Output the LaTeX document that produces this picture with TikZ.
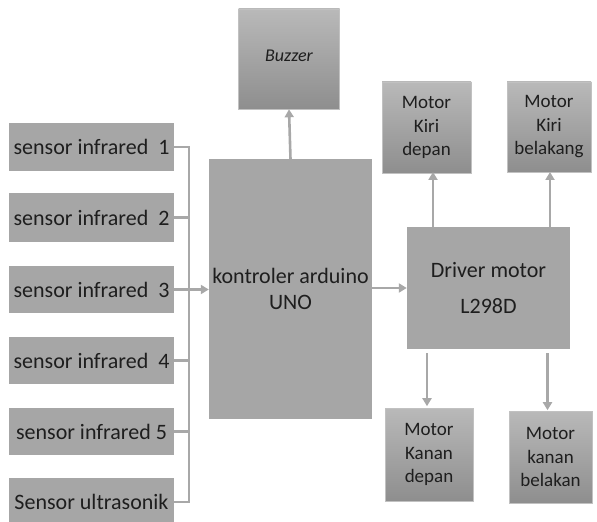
\documentclass[tikz,border=0pt]{standalone}
\usepackage{fontspec}
\setmainfont{Carlito}
\usetikzlibrary{arrows.meta}
\definecolor{boxgray}{HTML}{A6A6A6}
\definecolor{linegray}{HTML}{A8A8A8}
\definecolor{shadetop}{HTML}{B9B9B9}
\definecolor{shadebot}{HTML}{8E8E8E}
\definecolor{txt}{HTML}{1E1E1E}

\begin{document}
\begin{tikzpicture}[x=1bp, y=-1bp,
    flatbox/.style={fill=boxgray, text=txt, inner sep=0pt, align=center,
      font=\fontsize{22bp}{26bp}\selectfont},
    shadebox/.style={top color=shadetop, bottom color=shadebot, draw=boxgray!70,
      line width=0.6bp, text=txt, inner sep=0pt, align=center,
      font=\fontsize{19bp}{23.5bp}\selectfont},
    wire/.style={draw=linegray, line width=2.6bp},
    arrow/.style={wire, -{Triangle[length=8bp, width=9bp]}}]
    \useasboundingbox (0,0) rectangle (597,522);

    % sensor di sebelah kiri
    \node[flatbox, minimum width=164bp, minimum height=48bp] (s1) at (91.5,147) {sensor infrared\ \ 1};
    \node[flatbox, minimum width=164bp, minimum height=49bp] (s2) at (91.5,217.5) {sensor infrared\ \ 2};
    \node[flatbox, minimum width=164bp, minimum height=47bp] (s3) at (91.5,289.5) {sensor infrared\ \ 3};
    \node[flatbox, minimum width=164bp, minimum height=47bp] (s4) at (91.5,360.5) {sensor infrared\ \ 4};
    \node[flatbox, minimum width=164bp, minimum height=47bp] (s5) at (91.5,431.5) {sensor infrared 5};
    \node[flatbox, minimum width=164bp, minimum height=48bp] (s6) at (91.5,502) {Sensor ultrasonik};

    % kontroler dan buzzer
    \node[flatbox, minimum width=163bp, minimum height=259bp] (uno) at (290.5,289) {kontroler arduino\\UNO};
    \node[shadebox, minimum width=101bp, minimum height=100bp,
      font=\fontsize{18bp}{22bp}\selectfont\itshape] (buz) at (289,59) {\raisebox{7bp}{Buzzer}};

    % driver motor
    \node[flatbox, minimum width=163bp, minimum height=122bp,
      font=\fontsize{22bp}{36bp}\selectfont] (drv) at (488.5,288) {Driver motor\\L298D};

    % empat motor
    \node[shadebox, minimum width=89bp, minimum height=91bp] (kid) at (426.5,127.5) {Motor\\Kiri\\depan};
    \node[shadebox, minimum width=84bp, minimum height=90bp] (kib) at (549,127) {Motor\\Kiri\\belakang};
    \node[shadebox, minimum width=88bp, minimum height=93bp] (kad) at (429,454.5) {Motor\\Kanan\\depan};
    \node[shadebox, minimum width=83bp, minimum height=92bp] (kab) at (550.5,457) {Motor\\kanan\\belakan};

    % jalur sensor ke kontroler
    \coordinate (bus) at (189,0);
    \draw[wire] (s1.east) -| (bus |- s1.east) |- (s6.east);
    \foreach \s in {s2,s4,s5} {
      \draw[wire] (\s.east) -- (\s.east -| bus);
    }
    \draw[arrow] (s3.east) -- (s3.east -| uno.west);

    % kontroler ke buzzer dan driver
    \draw[arrow] (uno.north) -- (buz.south);
    \draw[arrow] (uno.east |- drv.west) -- (drv.west);

    % driver ke motor
    \draw[arrow] (433,227) -- (433,172);
    \draw[arrow] (550,227) -- (550,172);
    \draw[arrow] (kad.north |- drv.south) ++(-2,4) -- ++(0,53);
    \draw[arrow] (kab.north |- drv.south) ++(-3,4) -- ++(0,57);
\end{tikzpicture}
\end{document}
